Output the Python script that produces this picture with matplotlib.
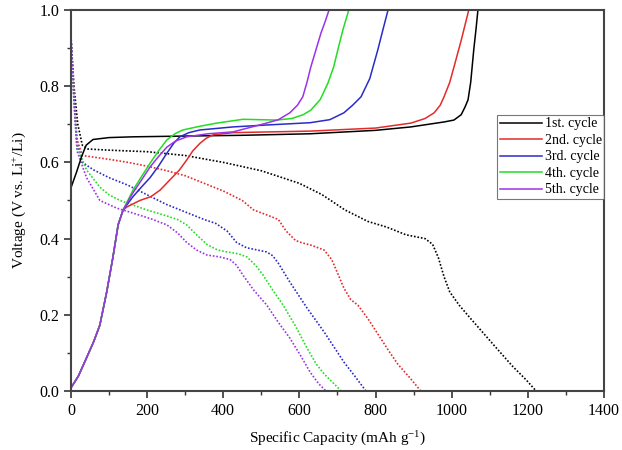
import matplotlib.pyplot as plt

plt.rcParams["font.family"] = ["Liberation Serif", "DejaVu Serif"]
plt.rcParams["mathtext.fontset"] = "custom"
plt.rcParams["mathtext.rm"] = "Liberation Serif"
plt.rcParams["mathtext.default"] = "regular"

labels = ["1st. cycle", "2nd. cycle", "3rd. cycle", "4th. cycle", "5th. cycle"]
colors = ["black", "#e32b2b", "#2b2bc8", "#22dd22", "#9b33e6"]

# discharge (dotted)
dis_x1 = [0, 8, 18, 30, 45, 100, 200, 300, 400, 500, 600, 660, 720, 780, 830, 880, 930, 950, 965, 980, 995, 1020, 1050, 1085, 1120, 1160, 1195, 1222]
dis_y1 = [0.93, 0.80, 0.70, 0.645, 0.635, 0.632, 0.628, 0.618, 0.60, 0.578, 0.545, 0.515, 0.475, 0.445, 0.43, 0.41, 0.40, 0.385, 0.35, 0.30, 0.26, 0.225, 0.19, 0.15, 0.11, 0.065, 0.03, 0.0]
dis_x2 = [0, 8, 16, 30, 100, 150, 200, 252, 300, 350, 400, 450, 480, 520, 545, 565, 590, 610, 630, 665, 685, 700, 717, 735, 754, 780, 806, 835, 859, 890, 919]
dis_y2 = [0.93, 0.78, 0.66, 0.618, 0.608, 0.60, 0.59, 0.578, 0.565, 0.545, 0.525, 0.50, 0.475, 0.46, 0.45, 0.42, 0.395, 0.388, 0.383, 0.37, 0.345, 0.31, 0.27, 0.24, 0.225, 0.19, 0.15, 0.105, 0.07, 0.035, 0.0]
dis_x3 = [0, 8, 16, 30, 60, 100, 150, 200, 250, 300, 350, 380, 410, 435, 461, 490, 514, 530, 545, 575, 620, 665, 717, 745, 775]
dis_y3 = [0.93, 0.77, 0.65, 0.60, 0.58, 0.56, 0.54, 0.515, 0.49, 0.47, 0.45, 0.44, 0.42, 0.39, 0.376, 0.37, 0.365, 0.355, 0.335, 0.286, 0.218, 0.155, 0.076, 0.04, 0.0]
dis_x4 = [0, 8, 16, 41, 76, 100, 129, 200, 250, 280, 304, 330, 357, 385, 410, 440, 462, 485, 505, 530, 557, 590, 620, 645, 665, 690, 710]
dis_y4 = [0.93, 0.76, 0.64, 0.58, 0.535, 0.515, 0.50, 0.475, 0.46, 0.45, 0.436, 0.41, 0.385, 0.37, 0.365, 0.36, 0.352, 0.33, 0.304, 0.265, 0.226, 0.17, 0.113, 0.07, 0.045, 0.02, 0.0]
dis_x5 = [0, 8, 16, 41, 76, 120, 163, 210, 252, 280, 304, 330, 357, 390, 418, 435, 452, 480, 514, 545, 575, 605, 628, 650, 670]
dis_y5 = [0.94, 0.76, 0.63, 0.56, 0.50, 0.48, 0.467, 0.452, 0.436, 0.415, 0.39, 0.37, 0.357, 0.352, 0.345, 0.33, 0.304, 0.265, 0.226, 0.18, 0.139, 0.09, 0.05, 0.02, 0.0]

# charge (solid)
chg_x1 = [0, 15, 28, 40, 58, 100, 163, 300, 450, 628, 800, 893, 980, 1006, 1025, 1035, 1043, 1050, 1058, 1064, 1069]
chg_y1 = [0.533, 0.575, 0.615, 0.645, 0.66, 0.665, 0.667, 0.669, 0.671, 0.675, 0.684, 0.693, 0.706, 0.711, 0.725, 0.745, 0.764, 0.81, 0.895, 0.95, 1.0]
base_x = [0, 20, 41, 60, 76, 94, 110, 124, 137]
base_y = [0.008, 0.04, 0.087, 0.13, 0.173, 0.26, 0.349, 0.436, 0.475]
chg_x2 = base_x + [147, 181, 210, 234, 260, 285, 304, 320, 339, 355, 373, 426, 628, 800, 893, 930, 954, 970, 980, 995, 1006, 1025, 1045]
chg_y2 = base_y + [0.483, 0.50, 0.51, 0.527, 0.554, 0.58, 0.606, 0.63, 0.65, 0.663, 0.672, 0.678, 0.682, 0.69, 0.703, 0.715, 0.73, 0.75, 0.772, 0.81, 0.85, 0.92, 1.0]
chg_x3 = base_x + [163, 185, 208, 230, 252, 270, 286, 310, 339, 426, 514, 628, 680, 717, 740, 762, 785, 806, 820, 833]
chg_y3 = base_y + [0.51, 0.535, 0.56, 0.59, 0.624, 0.65, 0.667, 0.678, 0.685, 0.693, 0.698, 0.704, 0.712, 0.73, 0.75, 0.772, 0.82, 0.895, 0.95, 1.0]
chg_x4 = base_x + [163, 185, 208, 230, 252, 275, 294, 340, 383, 452, 540, 580, 610, 630, 655, 675, 690, 701, 715, 730]
chg_y4 = base_y + [0.527, 0.562, 0.598, 0.63, 0.659, 0.676, 0.685, 0.695, 0.703, 0.713, 0.711, 0.715, 0.725, 0.737, 0.765, 0.808, 0.85, 0.895, 0.95, 1.0]
chg_x5 = base_x + [163, 185, 208, 230, 252, 275, 304, 360, 426, 514, 545, 575, 595, 609, 620, 630, 645, 657, 668, 678]
chg_y5 = base_y + [0.52, 0.553, 0.588, 0.615, 0.64, 0.656, 0.667, 0.675, 0.68, 0.703, 0.712, 0.73, 0.75, 0.772, 0.81, 0.85, 0.9, 0.94, 0.97, 1.0]

dis_x = [dis_x1, dis_x2, dis_x3, dis_x4, dis_x5]
dis_y = [dis_y1, dis_y2, dis_y3, dis_y4, dis_y5]
chg_x = [chg_x1, chg_x2, chg_x3, chg_x4, chg_x5]
chg_y = [chg_y1, chg_y2, chg_y3, chg_y4, chg_y5]

fig = plt.figure(figsize=(6.22, 4.5), dpi=100)
ax = fig.add_axes([0.114, 0.131, 0.857, 0.847])

for i in range(5):
    ax.plot(dis_x[i], dis_y[i], linestyle=(0, (1, 1.1)), color=colors[i], lw=1.2)
for i in range(5):
    ax.plot(chg_x[i], chg_y[i], color=colors[i], lw=1.1, label=labels[i])

ax.set_xlim(0, 1400)
ax.set_ylim(0, 1.0)
ax.set_xticks(range(0, 1401, 200))
ax.set_xticks(range(100, 1400, 200), minor=True)
ax.set_yticks([0.0, 0.2, 0.4, 0.6, 0.8, 1.0])
ax.set_yticks([0.1, 0.3, 0.5, 0.7, 0.9], minor=True)
ax.tick_params(which="major", direction="out", length=5, width=1.2, labelsize=11.5, color="#333333")
ax.tick_params(which="minor", direction="out", length=3, width=1.0, color="#333333")
for s in ax.spines.values():
    s.set_linewidth(1.5)
    s.set_color("#444444")

ax.set_xlabel("Specific Capacity (mAh g$^{-1}$)", fontsize=11, labelpad=8)
ax.set_ylabel("Voltage (V vs. Li$^{+}$/Li)", fontsize=11, labelpad=8)

leg = ax.legend(loc="upper left", bbox_to_anchor=(0.80, 0.725), fontsize=10,
                frameon=True, fancybox=False, handlelength=3.0, handletextpad=0.2,
                borderpad=0.2, labelspacing=0.25, borderaxespad=0)
leg.get_frame().set_edgecolor("#555555")
leg.get_frame().set_linewidth(0.8)

fig.savefig("out.png", dpi=100)
